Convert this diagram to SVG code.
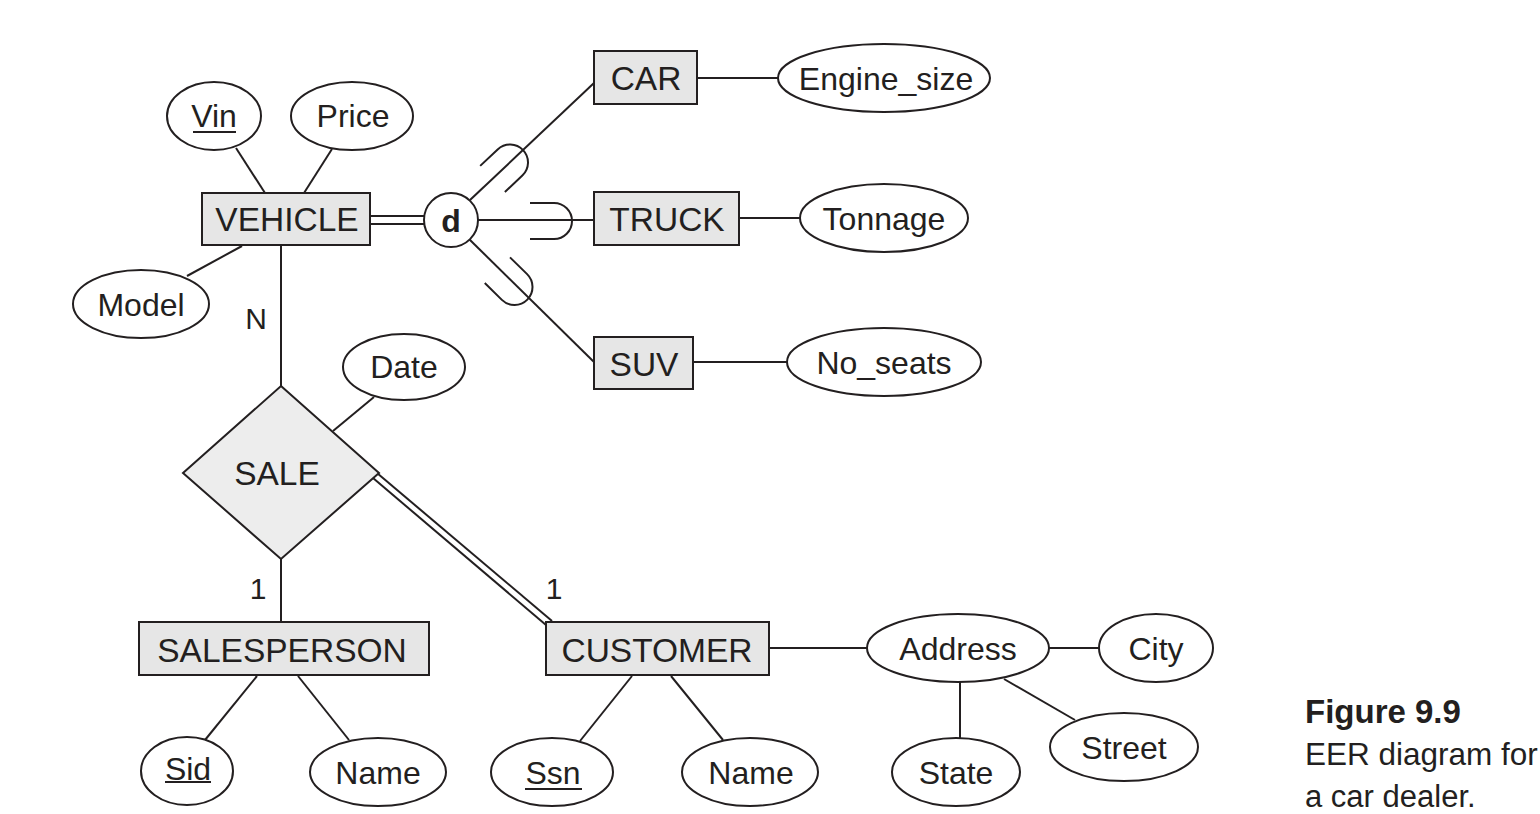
<svg xmlns="http://www.w3.org/2000/svg" width="1540" height="814" viewBox="0 0 1540 814">
<style>
.ent{fill:#e6e6e6;stroke:#231f20;stroke-width:2}
.rel{fill:#ededed;stroke:#231f20;stroke-width:2}
.att{fill:#fff;stroke:#231f20;stroke-width:2}
.ln{stroke:#231f20;stroke-width:2;fill:none}
text{font-family:"Liberation Sans",Arial,sans-serif;fill:#231f20}
.et{font-size:33.5px;text-anchor:middle}
.at{font-size:32px;text-anchor:middle}
.lb{font-size:30px;text-anchor:middle}
</style>
<defs>
<path id="sub" d="M -24 -18 H 0 A 18 18 0 0 1 0 18 H -24" class="ln"/>
</defs>
<rect width="1540" height="814" fill="#fff"/>
<g id="connectors">
<line class="ln" x1="236" y1="148" x2="265" y2="193"/>
<line class="ln" x1="332" y1="149" x2="304" y2="193"/>
<line class="ln" x1="187" y1="276" x2="242" y2="246"/>
<line class="ln" x1="281" y1="245" x2="281" y2="386"/>
<line class="ln" x1="370" y1="216" x2="425" y2="216"/>
<line class="ln" x1="370" y1="224" x2="425" y2="224"/>
<line class="ln" x1="470" y1="200" x2="594" y2="83"/>
<line class="ln" x1="478" y1="220" x2="594" y2="220"/>
<line class="ln" x1="469" y1="239" x2="594" y2="362"/>
<use href="#sub" transform="translate(510,162.5) rotate(-43.3)"/>
<use href="#sub" transform="translate(554,221)"/>
<use href="#sub" transform="translate(514.5,287) rotate(44.5)"/>
<line class="ln" x1="697" y1="78" x2="778" y2="78"/>
<line class="ln" x1="739" y1="218" x2="800" y2="218"/>
<line class="ln" x1="693" y1="362" x2="787" y2="362"/>
<line class="ln" x1="374" y1="397" x2="333" y2="431"/>
<line class="ln" x1="377" y1="473" x2="552" y2="621"/>
<line class="ln" x1="373" y1="478" x2="546" y2="625"/>
<line class="ln" x1="281" y1="559" x2="281" y2="622"/>
<line class="ln" x1="257" y1="676" x2="205" y2="740"/>
<line class="ln" x1="298" y1="676" x2="349" y2="740"/>
<line class="ln" x1="632" y1="676" x2="580" y2="741"/>
<line class="ln" x1="671" y1="676" x2="723" y2="740"/>
<line class="ln" x1="769" y1="648" x2="867" y2="648"/>
<line class="ln" x1="1049" y1="648" x2="1099" y2="648"/>
<line class="ln" x1="960" y1="682" x2="960" y2="738"/>
<line class="ln" x1="1004" y1="679" x2="1075" y2="720"/>
</g>
<g id="vehicle"><rect class="ent" x="202" y="193" width="168" height="52"/><text class="et" x="287" y="231">VEHICLE</text></g>
<g id="vin"><ellipse class="att" cx="214" cy="116" rx="47" ry="34"/><text class="at" x="214" y="127">Vin</text><line class="ln" x1="193" y1="132" x2="236" y2="132"/></g>
<g id="price"><ellipse class="att" cx="352" cy="116" rx="61" ry="34"/><text class="at" x="353" y="127">Price</text></g>
<g id="model"><ellipse class="att" cx="141" cy="304" rx="68" ry="34"/><text class="at" x="141" y="316">Model</text></g>
<g id="disjoint"><circle class="att" cx="451" cy="220" r="27"/><text x="451" y="232" font-size="32" font-weight="bold" text-anchor="middle">d</text></g>
<g id="car"><rect class="ent" x="594" y="51" width="103" height="53"/><text class="et" x="646" y="90">CAR</text></g>
<g id="truck"><rect class="ent" x="594" y="192" width="145" height="53"/><text class="et" x="667" y="231">TRUCK</text></g>
<g id="suv"><rect class="ent" x="594" y="337" width="99" height="52"/><text class="et" x="644" y="376">SUV</text></g>
<g id="engine_size"><ellipse class="att" cx="884" cy="78" rx="106" ry="34"/><text class="at" x="886" y="90">Engine_size</text></g>
<g id="tonnage"><ellipse class="att" cx="884" cy="218" rx="84" ry="34"/><text class="at" x="884" y="230">Tonnage</text></g>
<g id="no_seats"><ellipse class="att" cx="884" cy="362" rx="97" ry="34"/><text class="at" x="884" y="374">No_seats</text></g>
<g id="sale"><polygon class="rel" points="281,386 379,473 281,559 183,473"/><text class="et" x="277" y="485">SALE</text></g>
<g id="date"><ellipse class="att" cx="404" cy="367" rx="61" ry="33"/><text class="at" x="404" y="378">Date</text></g>
<g id="labels"><text class="lb" x="256" y="329">N</text><text class="lb" x="258" y="599">1</text><text class="lb" x="554" y="599">1</text></g>
<g id="salesperson"><rect class="ent" x="139" y="622" width="290" height="53"/><text class="et" x="282" y="662">SALESPERSON</text></g>
<g id="customer"><rect class="ent" x="546" y="622" width="223" height="53"/><text class="et" x="657" y="662">CUSTOMER</text></g>
<g id="sid"><ellipse class="att" cx="187" cy="771" rx="46" ry="34"/><text class="at" x="188" y="780">Sid</text><line class="ln" x1="165" y1="782" x2="211" y2="782"/></g>
<g id="sp_name"><ellipse class="att" cx="378" cy="772" rx="68" ry="34"/><text class="at" x="378" y="784">Name</text></g>
<g id="ssn"><ellipse class="att" cx="552" cy="772" rx="61" ry="34"/><text class="at" x="553" y="784">Ssn</text><line class="ln" x1="525" y1="789" x2="582" y2="789"/></g>
<g id="c_name"><ellipse class="att" cx="750" cy="772" rx="68" ry="34"/><text class="at" x="751" y="784">Name</text></g>
<g id="address"><ellipse class="att" cx="958" cy="648" rx="91" ry="34"/><text class="at" x="958" y="660">Address</text></g>
<g id="city"><ellipse class="att" cx="1156" cy="648" rx="57" ry="34"/><text class="at" x="1156" y="660">City</text></g>
<g id="state"><ellipse class="att" cx="956" cy="772" rx="64" ry="34"/><text class="at" x="956" y="784">State</text></g>
<g id="street"><ellipse class="att" cx="1124" cy="747" rx="74" ry="34"/><text class="at" x="1124" y="759">Street</text></g>
<g id="caption">
<text x="1305" y="723" font-size="33" font-weight="bold">Figure 9.9</text>
<text x="1305" y="765" font-size="31.5">EER diagram for</text>
<text x="1305" y="807" font-size="31">a car dealer.</text>
</g>
</svg>
